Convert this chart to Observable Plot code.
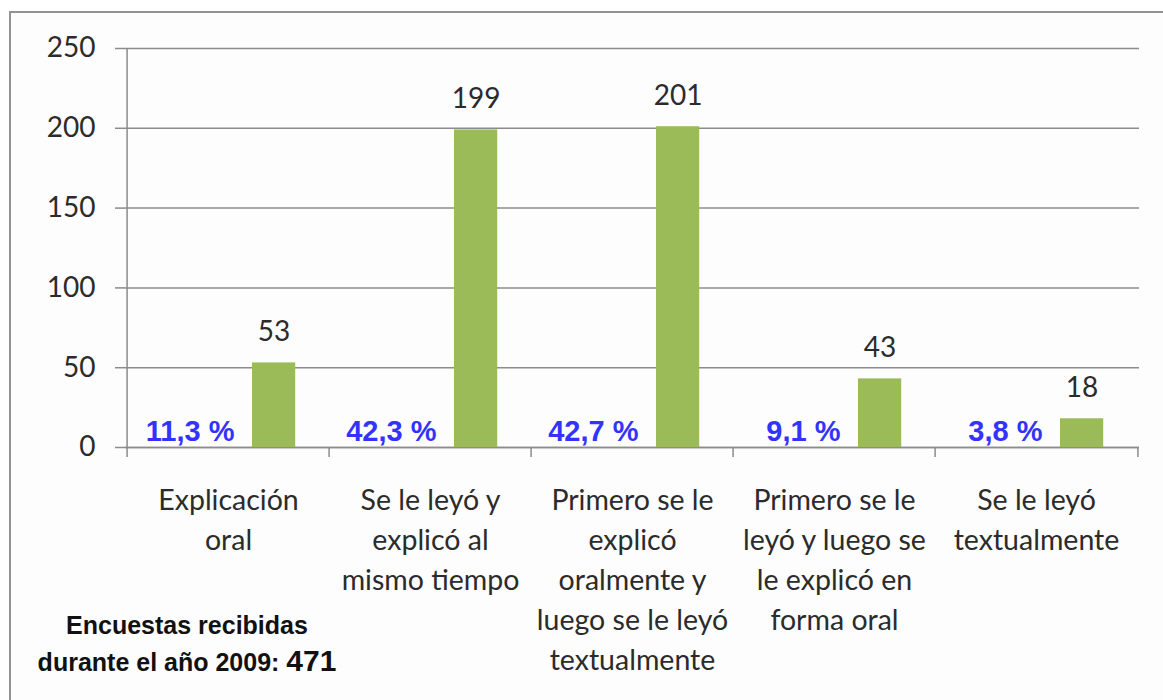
<!DOCTYPE html>
<html><head><meta charset="utf-8">
<script src="https://cdn.jsdelivr.net/npm/d3@7"></script>
<script src="https://cdn.jsdelivr.net/npm/@observablehq/plot@0.6"></script>
<style>
html,body{margin:0;padding:0;background:#fff}
body{width:1163px;height:700px;overflow:hidden;position:relative}
#bg{position:absolute;left:10px;top:12px;width:1200px;height:760px;background:#fdfdfd}
#border{position:absolute;left:9px;top:11px;width:1200px;height:760px;border:2px solid #939393;box-sizing:border-box;z-index:5;pointer-events:none}
#chart{position:absolute;left:0;top:0;z-index:2}
#note{position:absolute;left:0;top:607px;width:374px;text-align:center;font-family:"Liberation Sans",Arial,sans-serif;font-weight:bold;color:#111;font-size:25px;line-height:36px;z-index:3}
#note .big{font-size:30px}
</style></head><body>
<div id="bg"></div>
<div id="chart"></div>
<div id="note"><div>Encuestas recibidas</div><div>durante el año 2009: <span class="big" id="total"></span></div></div>
<div id="border"></div>
<script>
const categories = ["Explicación oral", "Se le leyó y explicó al mismo tiempo", "Primero se le explicó oralmente y luego se le leyó textualmente", "Primero se le leyó y luego se le explicó en forma oral", "Se le leyó textualmente"];
const categoryLabels = ["Explicación\noral", "Se le leyó y\nexplicó al\nmismo tiempo", "Primero se le\nexplicó\noralmente y\nluego se le leyó\ntextualmente", "Primero se le\nleyó y luego se\nle explicó en\nforma oral", "Se le leyó\ntextualmente"];
const counts = [53, 199, 201, 43, 18];
const percentLabels = ["11,3 %", "42,3 %", "42,7 %", "9,1 %", "3,8 %"];
const yTicks = [0, 50, 100, 150, 200, 250];
const totalSurveys = 471;

document.getElementById("total").textContent = totalSurveys;

const data = categories.map((c, i) => ({category: c, label: categoryLabels[i], count: counts[i], pct: percentLabels[i]}));

const width = 1163, height = 700;
const mL = 125, mR = 24, mT = 48, mB = 253;
const bw = (width - mL - mR) / categories.length;
const gray = "#8c8c8c";
const textFont = "Lato, 'Open Sans', sans-serif";

const chart = Plot.plot({
  width, height,
  marginLeft: mL, marginRight: mR, marginTop: mT, marginBottom: mB,
  style: {background: "transparent", fontFamily: textFont, overflow: "visible"},
  x: {domain: categories, padding: 0, axis: null},
  y: {domain: [0, 250], axis: null},
  marks: [
    Plot.gridY(yTicks, {stroke: gray, strokeOpacity: 1, strokeWidth: 1.5}),
    Plot.axisY(yTicks, {label: null, tickSize: 10, tickPadding: 20, fontSize: 28, stroke: gray, strokeWidth: 1.5, fill: "#2b2b2b"}),
    Plot.ruleX([categories[0]], {x: d => d, dx: -bw / 2, stroke: gray, strokeWidth: 1.5}),
    Plot.ruleY([0], {stroke: gray, strokeWidth: 1.5}),
    Plot.ruleX(categories, {x: d => d, y1: 0, y2: 0, insetBottom: -10, dx: -bw / 2, stroke: gray, strokeWidth: 1.5}),
    Plot.ruleX([categories[categories.length - 1]], {x: d => d, y1: 0, y2: 0, insetBottom: -10, dx: bw / 2, stroke: gray, strokeWidth: 1.5}),
    Plot.barY(data, {x: "category", y: "count", fill: "#9bbb59", insetLeft: 125, insetRight: bw - 169}),
    Plot.text(data, {x: "category", y: "count", text: d => String(d.count), dx: (125 + 169) / 2 - bw / 2, dy: -22, lineAnchor: "bottom", fontSize: 28, fill: "#2b2b2b"}),
    Plot.text(data, {x: "category", y: 0, text: "pct", textAnchor: "end", lineAnchor: "bottom", dx: 6, dy: -7, fontSize: 29, fontWeight: "bold", fontFamily: "'Liberation Sans', Arial, sans-serif", fill: "#3333ff"}),
    Plot.text(data, {x: "category", text: "label", frameAnchor: "bottom", lineAnchor: "top", dy: 34, fontSize: 28.5, lineHeight: 40 / 28.5, fill: "#2b2b2b"})
  ]
});
document.getElementById("chart").appendChild(chart);
</script>
</body></html>
